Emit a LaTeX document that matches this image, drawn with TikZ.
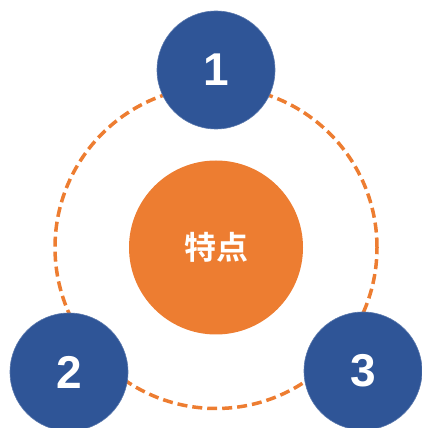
\documentclass[tikz,border=0pt]{standalone}
\usepackage{fontspec}
\newfontfamily\cjk{Noto Sans CJK SC}[BoldFont=* Bold]
\newfontfamily\numfont{Liberation Sans}
\definecolor{myblue}{HTML}{2F5597}
\definecolor{myorange}{HTML}{ED7D31}
\begin{document}
\begin{tikzpicture}[x=1pt,y=1pt,
  numcircle/.style={circle,fill=myblue,draw=myblue!80!white,line width=0.6pt,minimum size=118pt,inner sep=0pt,text=white,font=\numfont\bfseries\fontsize{46}{46}\selectfont},
  centercircle/.style={circle,fill=myorange,minimum size=174pt,inner sep=0pt,text=white,font=\cjk\bfseries\fontsize{32}{32}\selectfont},
  ring/.style={draw=myorange,line width=3.5pt,dash pattern=on 10pt off 5pt}]
\useasboundingbox (0,0) rectangle (422,428);
\coordinate (c) at (216,180.5);
\draw[ring] (c) circle[radius=161];
\node[centercircle] (center) at (c) {特点};
\node[numcircle] (n1) at (216,358) {1};
\node[numcircle] (n2) at (69,56) {2};
\node[numcircle] (n3) at (363,57) {3};
\end{tikzpicture}
\end{document}
